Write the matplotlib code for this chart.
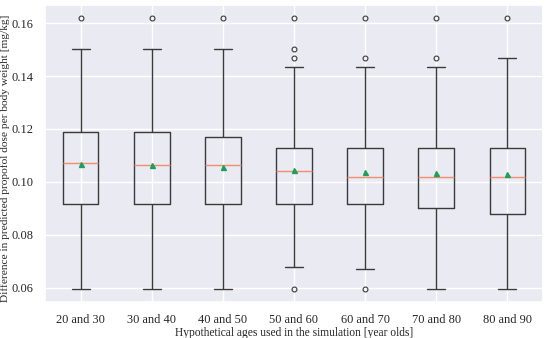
import matplotlib
matplotlib.use('Agg')
import matplotlib.pyplot as plt
import seaborn as sns

# Values
categories = ['20 and 30', '30 and 40', '40 and 50', '50 and 60',
              '60 and 70', '70 and 80', '80 and 90']
whisker_low = [0.0595, 0.0595, 0.0595, 0.0678, 0.0670, 0.0595, 0.0595]
q1 = [0.0916, 0.0916, 0.0916, 0.0916, 0.0916, 0.0901, 0.0878]
median = [0.1071, 0.1062, 0.1062, 0.1043, 0.1019, 0.1019, 0.1019]
mean = [0.1066, 0.1062, 0.1058, 0.1045, 0.1036, 0.1034, 0.1030]
q3 = [0.1190, 0.1190, 0.1169, 0.1127, 0.1127, 0.1127, 0.1127]
whisker_high = [0.1503, 0.1503, 0.1503, 0.1435, 0.1435, 0.1435, 0.1467]
outliers = [[0.162], [0.162], [0.162],
            [0.0595, 0.1467, 0.1502, 0.162],
            [0.0595, 0.1467, 0.162],
            [0.1467, 0.162],
            [0.162]]

sns.set_theme(style='darkgrid')
plt.rcParams['font.family'] = ['Liberation Serif', 'DejaVu Serif']

stats = []
for i, name in enumerate(categories):
    stats.append({
        'label': name, 'whislo': whisker_low[i], 'q1': q1[i], 'med': median[i],
        'mean': mean[i], 'q3': q3[i], 'whishi': whisker_high[i], 'fliers': outliers[i],
    })

fig, ax = plt.subplots(figsize=(5.5, 3.38), dpi=100)
ax.bxp(stats, showmeans=True, widths=0.5,
       boxprops=dict(color='#3a3a3a', linewidth=1.0),
       whiskerprops=dict(color='#3a3a3a', linewidth=1.0),
       capprops=dict(color='#3a3a3a', linewidth=1.0),
       medianprops=dict(color='#f28e6e', linewidth=1.0),
       meanprops=dict(marker='^', markerfacecolor='#1fa05a', markeredgecolor='#1fa05a', markersize=3.6),
       flierprops=dict(marker='o', markerfacecolor='none', markeredgecolor='#3a3a3a',
                       markersize=3.5, markeredgewidth=0.8))

ax.set_ylim(0.0547, 0.1668)
ax.set_yticks([0.06, 0.08, 0.10, 0.12, 0.14, 0.16])
ax.set_yticklabels(['0.06', '0.08', '0.10', '0.12', '0.14', '0.16'])
ax.tick_params(labelsize=8.9, colors='#262626', pad=2.5)
ax.set_xlabel('Hypothetical ages used in the simulation [year olds]', fontsize=8.3, labelpad=1)
ax.set_ylabel('Difference in predicted propofol dose per body weight [mg/kg]', fontsize=8.2)
ax.yaxis.set_label_coords(-0.07, 0.485)

fig.subplots_adjust(left=0.082, right=0.987, top=0.985, bottom=0.107)
fig.savefig('out.png', dpi=100)
plt.close(fig)
